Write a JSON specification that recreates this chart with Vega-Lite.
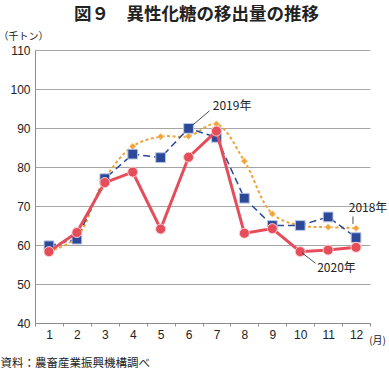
{
  "$schema": "https://vega.github.io/schema/vega-lite/v6.json",
  "width": 335,
  "height": 273,
  "autosize": "none",
  "padding": {"left": 35, "top": 50, "right": 19, "bottom": 50},
  "background": "white",
  "title": {
    "text": "図９　異性化糖の移出量の推移",
    "font": "Noto Sans CJK JP",
    "fontSize": 17.5,
    "fontWeight": "bold",
    "color": "#222222",
    "anchor": "middle",
    "frame": "group",
    "offset": 8,
    "dx": -6
  },
  "config": {
    "view": {"stroke": null},
    "font": "Liberation Sans",
    "axis": {
      "labelFont": "Liberation Sans",
      "labelColor": "#222222",
      "titleColor": "#222222",
      "titleFont": "Noto Sans CJK JP",
      "titleFontWeight": "normal"
    }
  },
  "datasets": {
    "series": [
      {"year": "2018", "month": 1, "value": 58.3},
      {"year": "2018", "month": 2, "value": 62.0},
      {"year": "2018", "month": 3, "value": 77.0},
      {"year": "2018", "month": 4, "value": 85.3},
      {"year": "2018", "month": 5, "value": 87.8},
      {"year": "2018", "month": 6, "value": 87.9},
      {"year": "2018", "month": 7, "value": 91.0},
      {"year": "2018", "month": 8, "value": 81.5},
      {"year": "2018", "month": 9, "value": 68.0},
      {"year": "2018", "month": 10, "value": 65.0},
      {"year": "2018", "month": 11, "value": 64.6},
      {"year": "2018", "month": 12, "value": 64.3},
      {"year": "2019", "month": 1, "value": 59.8},
      {"year": "2019", "month": 2, "value": 61.5},
      {"year": "2019", "month": 3, "value": 77.0},
      {"year": "2019", "month": 4, "value": 83.3},
      {"year": "2019", "month": 5, "value": 82.4},
      {"year": "2019", "month": 6, "value": 89.9},
      {"year": "2019", "month": 7, "value": 87.6},
      {"year": "2019", "month": 8, "value": 72.0},
      {"year": "2019", "month": 9, "value": 65.0},
      {"year": "2019", "month": 10, "value": 65.0},
      {"year": "2019", "month": 11, "value": 67.2},
      {"year": "2019", "month": 12, "value": 61.9},
      {"year": "2020", "month": 1, "value": 58.3},
      {"year": "2020", "month": 2, "value": 63.2},
      {"year": "2020", "month": 3, "value": 76.0},
      {"year": "2020", "month": 4, "value": 78.7},
      {"year": "2020", "month": 5, "value": 64.1},
      {"year": "2020", "month": 6, "value": 82.5},
      {"year": "2020", "month": 7, "value": 89.2},
      {"year": "2020", "month": 8, "value": 63.0},
      {"year": "2020", "month": 9, "value": 64.2},
      {"year": "2020", "month": 10, "value": 58.3},
      {"year": "2020", "month": 11, "value": 58.7},
      {"year": "2020", "month": 12, "value": 59.4}
    ],
    "labels": [
      {"label": "2019年", "month": 7.56, "value": 95.6},
      {"label": "2018年", "month": 12.43, "value": 69.6},
      {"label": "2020年", "month": 11.3, "value": 54.0}
    ],
    "leaders": [
      {"m1": 6.16, "v1": 90.8, "m2": 6.75, "v2": 94.4},
      {"m1": 11.89, "v1": 67.3, "m2": 11.89, "v2": 65.4},
      {"m1": 10.06, "v1": 58.0, "m2": 10.55, "v2": 55.3}
    ]
  },
  "layer": [
    {
      "data": {"name": "series"},
      "transform": [{"filter": "datum.year == '2018'"}],
      "mark": {"type": "line", "color": "#f0a33a", "strokeWidth": 2, "strokeDash": [3, 2.5], "interpolate": "catmull-rom"},
      "encoding": {
        "x": {
          "field": "month",
          "type": "quantitative",
          "scale": {"domain": [0.5, 12.5], "nice": false, "zero": false},
          "axis": {
            "values": [0.5, 1.5, 2.5, 3.5, 4.5, 5.5, 6.5, 7.5, 8.5, 9.5, 10.5, 11.5, 12.5],
            "tickCount": 50,
            "labelExpr": "datum.value == 12.5 ? '(月)' : format(datum.value + 0.5, 'd')",
            "labelOffset": {"expr": "datum.value == 12.5 ? 7 : 14"},
            "labelPadding": {"expr": "datum.value == 12.5 ? 9 : 3"},
            "labelFontSize": {"expr": "datum.value == 12.5 ? 10 : 12"},
            "labelFont": {"expr": "datum.value == 12.5 ? 'Noto Sans CJK JP' : 'Liberation Sans'"},
            "labelFlush": false,
            "labelOverlap": false,
            "grid": false,
            "domainColor": "#8c8c8c",
            "tickColor": "#8c8c8c",
            "tickSize": 3,
            "title": "資料：農畜産業振興機構調べ",
            "titleFontSize": 11.5,
            "titleAnchor": "start",
            "titleAlign": "left",
            "titleBaseline": "middle",
            "titleX": -35,
            "titleY": 40
          }
        },
        "y": {
          "field": "value",
          "type": "quantitative",
          "scale": {"domain": [40, 110], "nice": false, "zero": false},
          "axis": {
            "values": [40, 50, 60, 70, 80, 90, 100, 110],
            "tickCount": 50,
            "labelOverlap": false,
            "grid": true,
            "gridColor": "#a6a6a6",
            "gridWidth": 1,
            "domainColor": "#8c8c8c",
            "ticks": false,
            "labelPadding": 5,
            "labelFontSize": 12,
            "title": "（千トン）",
            "titleFontSize": 10,
            "titleAngle": 0,
            "titleAlign": "left",
            "titleBaseline": "middle",
            "titleX": -37,
            "titleY": -14
          }
        }
      }
    },
    {
      "data": {"name": "series"},
      "transform": [{"filter": "datum.year == '2018'"}],
      "mark": {"type": "point", "shape": "diamond", "filled": true, "opacity": 1, "color": "#f0a33a", "size": 45, "stroke": "#ffe0b0", "strokeWidth": 0.8},
      "encoding": {"x": {"field": "month", "type": "quantitative"}, "y": {"field": "value", "type": "quantitative"}}
    },
    {
      "data": {"name": "series"},
      "transform": [{"filter": "datum.year == '2019'"}],
      "mark": {"type": "line", "color": "#2b4899", "strokeWidth": 1.5, "strokeDash": [7, 4]},
      "encoding": {"x": {"field": "month", "type": "quantitative"}, "y": {"field": "value", "type": "quantitative"}}
    },
    {
      "data": {"name": "series"},
      "transform": [{"filter": "datum.year == '2019'"}],
      "mark": {"type": "point", "shape": "square", "filled": true, "opacity": 1, "fill": "#2b4899", "size": 95, "stroke": "#b8c4e4", "strokeWidth": 1},
      "encoding": {"x": {"field": "month", "type": "quantitative"}, "y": {"field": "value", "type": "quantitative"}}
    },
    {
      "data": {"name": "series"},
      "transform": [{"filter": "datum.year == '2020'"}],
      "mark": {"type": "line", "color": "#e64d5a", "strokeWidth": 3},
      "encoding": {"x": {"field": "month", "type": "quantitative"}, "y": {"field": "value", "type": "quantitative"}}
    },
    {
      "data": {"name": "series"},
      "transform": [{"filter": "datum.year == '2020'"}],
      "mark": {"type": "point", "shape": "circle", "filled": true, "opacity": 1, "fill": "#e64d5a", "size": 100, "stroke": "#ffd0d4", "strokeWidth": 1},
      "encoding": {"x": {"field": "month", "type": "quantitative"}, "y": {"field": "value", "type": "quantitative"}}
    },
    {
      "data": {"name": "leaders"},
      "mark": {"type": "rule", "color": "#222222", "strokeWidth": 0.8},
      "encoding": {
        "x": {"field": "m1", "type": "quantitative"},
        "x2": {"field": "m2"},
        "y": {"field": "v1", "type": "quantitative"},
        "y2": {"field": "v2"}
      }
    },
    {
      "data": {"name": "labels"},
      "mark": {"type": "text", "font": "Noto Sans CJK JP", "fontSize": 12, "color": "#222222", "align": "center", "baseline": "middle"},
      "encoding": {
        "x": {"field": "month", "type": "quantitative"},
        "y": {"field": "value", "type": "quantitative"},
        "text": {"field": "label"}
      }
    }
  ]
}
